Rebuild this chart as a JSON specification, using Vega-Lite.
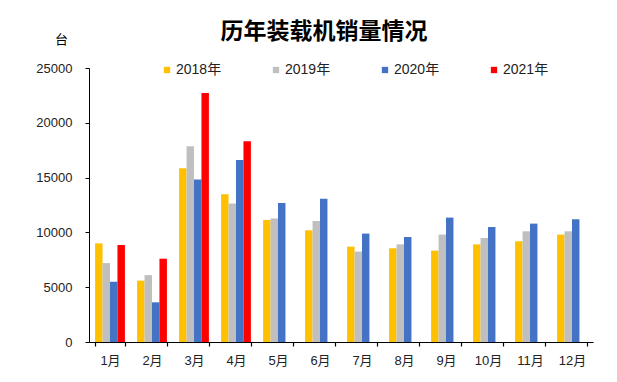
{
  "$schema": "https://vega.github.io/schema/vega-lite/v6.json",
  "width": 504,
  "height": 274,
  "autosize": {"type": "none"},
  "padding": {"left": 89, "top": 68, "right": 24, "bottom": 40},
  "background": "white",
  "title": {
    "text": "历年装载机销量情况",
    "font": "Noto Sans CJK SC",
    "fontSize": 23,
    "fontWeight": "bold",
    "color": "#000000",
    "anchor": "middle",
    "frame": "group",
    "dx": -17,
    "dy": 37,
    "offset": 26
  },
  "data": {
    "values": [
      {"month": "1月", "year": "2018年", "value": 9000},
      {"month": "1月", "year": "2019年", "value": 7200},
      {"month": "1月", "year": "2020年", "value": 5500},
      {"month": "1月", "year": "2021年", "value": 8850},
      {"month": "2月", "year": "2018年", "value": 5600},
      {"month": "2月", "year": "2019年", "value": 6100},
      {"month": "2月", "year": "2020年", "value": 3620},
      {"month": "2月", "year": "2021年", "value": 7600},
      {"month": "3月", "year": "2018年", "value": 15850},
      {"month": "3月", "year": "2019年", "value": 17860},
      {"month": "3月", "year": "2020年", "value": 14820},
      {"month": "3月", "year": "2021年", "value": 22720},
      {"month": "4月", "year": "2018年", "value": 13480},
      {"month": "4月", "year": "2019年", "value": 12630},
      {"month": "4月", "year": "2020年", "value": 16610},
      {"month": "4月", "year": "2021年", "value": 18310},
      {"month": "5月", "year": "2018年", "value": 11130},
      {"month": "5月", "year": "2019年", "value": 11270},
      {"month": "5月", "year": "2020年", "value": 12680},
      {"month": "6月", "year": "2018年", "value": 10190},
      {"month": "6月", "year": "2019年", "value": 11040},
      {"month": "6月", "year": "2020年", "value": 13080},
      {"month": "7月", "year": "2018年", "value": 8700},
      {"month": "7月", "year": "2019年", "value": 8250},
      {"month": "7月", "year": "2020年", "value": 9890},
      {"month": "8月", "year": "2018年", "value": 8550},
      {"month": "8月", "year": "2019年", "value": 8910},
      {"month": "8月", "year": "2020年", "value": 9580},
      {"month": "9月", "year": "2018年", "value": 8340},
      {"month": "9月", "year": "2019年", "value": 9800},
      {"month": "9月", "year": "2020年", "value": 11350},
      {"month": "10月", "year": "2018年", "value": 8910},
      {"month": "10月", "year": "2019年", "value": 9490},
      {"month": "10月", "year": "2020年", "value": 10490},
      {"month": "11月", "year": "2018年", "value": 9190},
      {"month": "11月", "year": "2019年", "value": 10100},
      {"month": "11月", "year": "2020年", "value": 10800},
      {"month": "12月", "year": "2018年", "value": 9800},
      {"month": "12月", "year": "2019年", "value": 10100},
      {"month": "12月", "year": "2020年", "value": 11200}
    ]
  },
  "mark": {"type": "bar"},
  "encoding": {
    "x": {
      "field": "month",
      "type": "nominal",
      "sort": null,
      "scale": {"paddingInner": 0.29, "paddingOuter": 0.145},
      "axis": {
        "title": null,
        "labelAngle": 0,
        "labelFont": "Liberation Sans, Noto Sans CJK SC",
        "labelFontSize": 13,
        "labelColor": "#222222",
        "labelPadding": 8,
        "domainColor": "#000000",
        "domainWidth": 1.2,
        "tickColor": "#000000",
        "tickSize": 4,
        "tickWidth": 1.2,
        "tickBand": "extent",
        "grid": false
      }
    },
    "xOffset": {
      "field": "year",
      "type": "nominal",
      "sort": ["2018年", "2019年", "2020年", "2021年"],
      "scale": {"paddingInner": 0}
    },
    "y": {
      "field": "value",
      "type": "quantitative",
      "scale": {"domain": [0, 25000], "nice": false},
      "axis": {
        "values": [0, 5000, 10000, 15000, 20000, 25000],
        "format": "d",
        "grid": false,
        "labelFont": "Liberation Sans",
        "labelFontSize": 13,
        "labelColor": "#222222",
        "labelPadding": 13,
        "domainColor": "#000000",
        "domainWidth": 1,
        "tickColor": "#000000",
        "tickSize": 4,
        "title": "台",
        "titleAngle": 0,
        "titleFont": "Noto Sans CJK SC",
        "titleFontSize": 13,
        "titleFontWeight": "normal",
        "titleColor": "#000000",
        "titleAlign": "center",
        "titleBaseline": "middle",
        "titleX": -28,
        "titleY": -29
      }
    },
    "color": {
      "field": "year",
      "type": "nominal",
      "sort": ["2018年", "2019年", "2020年", "2021年"],
      "scale": {
        "domain": ["2018年", "2019年", "2020年", "2021年"],
        "range": ["#FFC000", "#BFBFBF", "#4472C4", "#FF0000"]
      },
      "legend": {
        "title": null,
        "orient": "none",
        "direction": "horizontal",
        "columns": 4,
        "legendX": 71,
        "legendY": -5,
        "padding": 0,
        "symbolType": "square",
        "symbolSize": 40,
        "symbolStrokeWidth": 0,
        "labelFont": "Liberation Sans, Noto Sans CJK SC",
        "labelFontSize": 14,
        "labelColor": "#222222",
        "labelOffset": 2,
        "columnPadding": 47
      }
    }
  },
  "config": {"view": {"stroke": null}}
}
